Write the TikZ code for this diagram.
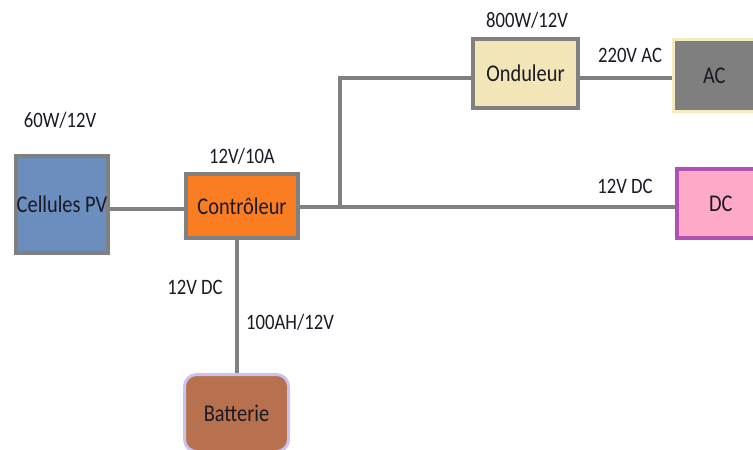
\documentclass[tikz,border=0pt]{standalone}
\usepackage{fontspec}
\setmainfont[FakeStretch=0.85]{Carlito}
\definecolor{bordergray}{HTML}{808080}
\definecolor{pvblue}{HTML}{6C8EBF}
\definecolor{ctrlorange}{HTML}{FA7D22}
\definecolor{ondcream}{HTML}{F2E6B8}
\definecolor{acgray}{HTML}{7F7F7F}
\definecolor{acborder}{HTML}{F5EBC0}
\definecolor{dcpink}{HTML}{FFA9C9}
\definecolor{dcpurple}{HTML}{B050B0}
\definecolor{batbrown}{HTML}{B8714F}
\definecolor{batborder}{HTML}{C9C3EE}
\definecolor{txt}{HTML}{1A1A24}
\begin{document}
\begin{tikzpicture}[x=1pt,y=-1pt,
  box/.style={draw=bordergray, line width=4pt, inner sep=0pt, font=\fontsize{24}{26}\selectfont, text=txt},
  lbl/.style={font=\fontsize{22}{24}\selectfont, text=txt, inner sep=0pt},
  wire/.style={draw=bordergray, line width=4pt}]
\useasboundingbox (0,0) rectangle (753,450);
\clip (0,0) rectangle (753,450);
\node[box, fill=pvblue, minimum width=92pt, minimum height=97pt] (pv) at (62,204) {Cellules PV};
\node[box, fill=ctrlorange, minimum width=112pt, minimum height=64pt] (ctrl) at (242,206) {Contrôleur};
\node[box, fill=ondcream, minimum width=105pt, minimum height=69pt] (ond) at (525.5,73.5) {Onduleur};
\node[box, draw=acborder, line width=3pt, fill=acgray, minimum width=124pt, minimum height=72pt, text width=124pt, align=left] (ac) at (735,75.5) {\hspace*{30pt}AC};
\node[box, draw=dcpurple, fill=dcpink, minimum width=124pt, minimum height=69pt, text width=124pt, align=left] (dc) at (739,203.5) {\hspace*{32pt}DC};
\node[box, draw=batborder, line width=3pt, fill=batbrown, rounded corners=12pt, minimum width=104pt, minimum height=77pt] (bat) at (236.5,413) {Batterie};
\coordinate (j) at (340,207);
\draw[wire] ([yshift=-5pt]pv.east) -- ([yshift=-5pt]pv.east -| ctrl.west);
\draw[wire] (ctrl.east |- j) -- (j -| dc.west);
\draw[wire] (j) |- ([yshift=-4.5pt]ond.west);
\draw[wire] ([yshift=-4.5pt]ond.east) -- ([yshift=-4.5pt]ond.east -| ac.west);
\draw[wire] (bat.north) -- (bat.north |- ctrl.south);
\node[lbl] (l1) at (60,120) {60W/12V};
\node[lbl] (l2) at (242,156) {12V/10A};
\node[lbl] (l3) at (527,20) {800W/12V};
\node[lbl] (l4) at (630,55) {220V AC};
\node[lbl] (l5) at (625,186) {12V DC};
\node[lbl] (l6) at (195,287) {12V DC};
\node[lbl] (l7) at (290,322) {100AH/12V};
\end{tikzpicture}
\end{document}
